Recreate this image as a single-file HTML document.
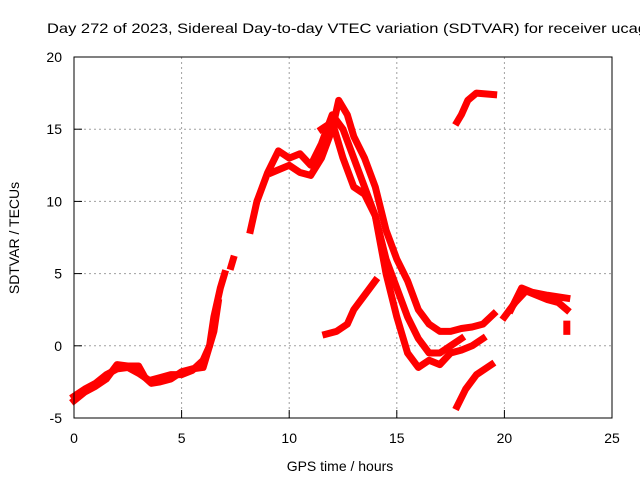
<!DOCTYPE html>
<html><head><meta charset="utf-8"><style>
body{margin:0;background:#fff;width:640px;height:480px;overflow:hidden}
svg text{font-family:"Liberation Sans",sans-serif;font-size:14px;fill:#000}
</style></head><body>
<svg id="chart" width="640" height="480" viewBox="0 0 640 480" xmlns="http://www.w3.org/2000/svg">
<rect width="640" height="480" fill="#fff"/>
<g id="grid"></g>
<g id="series"></g>
<rect x="74" y="57" width="538" height="361" fill="none" stroke="#000" stroke-width="1"/>
<g id="ticks"></g>
<text x="47" y="33" textLength="600" lengthAdjust="spacingAndGlyphs">Day 272 of 2023, Sidereal Day-to-day VTEC variation (SDTVAR) for receiver ucag</text>
<text x="340" y="471" text-anchor="middle">GPS time / hours</text>
<text transform="translate(19,238) rotate(-90)" text-anchor="middle">SDTVAR / TECUs</text>
</svg>
<script>
const xTicks=[0,5,10,15,20,25];
const yTicks=[-5,0,5,10,15,20];
const track1=[[0,-3.5],[0.5,-3],[1,-2.6],[1.5,-2],[2,-1.6],[2.5,-1.5],[3,-1.9],[3.5,-2.4],[4,-2.2],[4.5,-2],[5,-2],[5.5,-1.7],[6,-1],[6.3,0],[6.5,2],[6.8,4],[7,5]];
const track2=[[0,-3.8],[0.5,-3.2],[1,-2.8],[1.5,-2.3],[2,-1.3],[2.5,-1.4],[3,-1.4],[3.3,-2.2],[3.6,-2.6],[4,-2.5],[4.5,-2.3],[5,-1.8],[5.5,-1.6],[6,-1.5],[6.5,1],[6.7,3]];
const track3=[[7.3,5.5],[7.4,6]];
const track4=[[8.2,8],[8.5,10],[9,12],[9.5,13.5],[10,13],[10.5,13.3],[11,12.5],[11.5,14],[12,16],[12.5,15],[13,13],[13.5,11],[14,9],[14.5,5],[15,2],[15.5,-0.5],[16,-1.5],[16.5,-1],[17,-1.3],[17.5,-0.5],[18,-0.3],[18.5,0],[19,0.5]];
const track5=[[9.2,12],[10,12.5],[10.5,12],[11,11.8],[11.5,13],[12,15],[12.3,17],[12.7,16],[13,14.5],[13.5,13],[14,11],[14.5,8],[15,6],[15.5,4.5],[16,2.5],[16.5,1.5],[17,1],[17.5,1],[18,1.2],[18.5,1.3],[19,1.5],[19.5,2.2]];
const track6=[[11.5,15],[12,15.5],[12.5,13],[13,11],[13.5,10.5],[14,9],[14.5,6],[15,4],[15.5,2],[16,0.5],[16.5,-0.5],[17,-0.5],[17.5,0],[18,0.5]];
const track7=[[11.7,0.8],[12.2,1],[12.7,1.5],[13,2.5],[13.5,3.5],[14,4.5]];
const track8=[[17.8,15.5],[18,16],[18.3,17],[18.7,17.5],[19.5,17.4]];
const track9=[[17.8,-4.2],[18.2,-3],[18.7,-2],[19.4,-1.3]];
const track10=[[20,2],[20.5,3],[21,3.8],[21.5,3.5],[22,3.2],[22.5,3],[22.9,2.5]];
const track11=[[20.3,2.5],[20.8,4],[21.3,3.7],[22,3.5],[22.9,3.3]];
const track12=[[22.9,1],[22.9,1.5]];
const tracks=[track1,track2,track3,track4,track5,track6,track7,track8,track9,track10,track11,track12];
const X=v=>74+(v-0)/25*538, Y=v=>418-(v+5)/25*361;
const NS='http://www.w3.org/2000/svg';
const grid=document.getElementById('grid'),ticks=document.getElementById('ticks'),ser=document.getElementById('series');
function mk(t,a){const e=document.createElementNS(NS,t);for(const k in a)e.setAttribute(k,a[k]);return e;}
xTicks.forEach(v=>{
 if(v>0&&v<25){const g=mk('line',{x1:X(v),x2:X(v),y1:57,y2:418,stroke:'#a0a0a0','stroke-dasharray':'2,3'});
 
 grid.appendChild(g);}
 const t=mk('line',{x1:X(v),x2:X(v),y1:418,y2:410,stroke:'#000'});
 
 ticks.appendChild(t);
 const l=mk('text',{x:X(v),y:443,'text-anchor':'middle'});l.textContent=v;
 
 ticks.appendChild(l);
});
yTicks.forEach(v=>{
 if(v>-5&&v<20){const g=mk('line',{x1:74,x2:612,y1:Y(v),y2:Y(v),stroke:'#a0a0a0','stroke-dasharray':'2,3'});
 
 grid.appendChild(g);}
 const t=mk('line',{x1:74,x2:82,y1:Y(v),y2:Y(v),stroke:'#000'});
 
 ticks.appendChild(t);
 const l=mk('text',{x:62,y:Y(v)+5,'text-anchor':'end'});l.textContent=v;
 
 ticks.appendChild(l);
});
tracks.forEach((tr,i)=>{
 const p=mk('polyline',{points:tr.map(d=>X(d[0])+','+Y(d[1])).join(' '),fill:'none',stroke:'#ff0000','stroke-width':7,'stroke-linejoin':'round','stroke-linecap':'square'});
 
 
 ser.appendChild(p);
});
</script>
</body></html>
